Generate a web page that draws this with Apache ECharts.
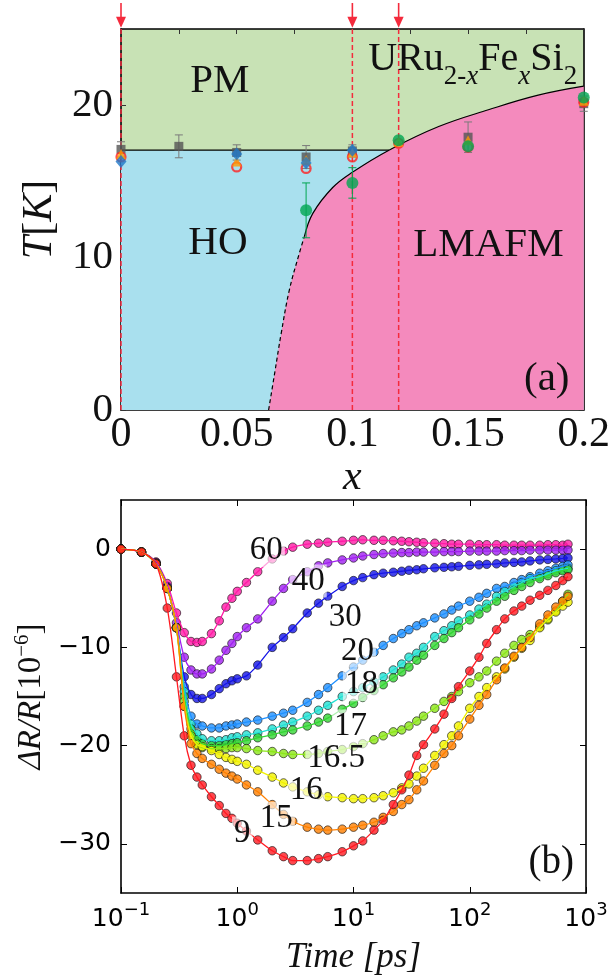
<!DOCTYPE html>
<html>
<head>
<meta charset="utf-8">
<script src="https://cdn.jsdelivr.net/npm/echarts@6/dist/echarts.min.js"></script>
<style>
html, body { margin: 0; padding: 0; background: #fff; }
#chart { width: 613px; height: 978px; }
</style>
</head>
<body>
<div id="chart"></div>
<script>
const SERIF = 'Liberation Serif';
const SANS = 'DejaVu Sans';

// ---------- (a) phase diagram ----------
const xLabelsA = [0, 0.05, 0.1, 0.15, 0.2];
const yLabelsA = [0, 10, 20];
const hoT = 17.05;
const hoEndX = 0.1158;
const boundaryDashed = [[0.0638, 0], [0.0664, 2.4], [0.0692, 5.0], [0.0728, 7.9], [0.0771, 10.3], [0.0793, 11.4]];
const boundarySolid = [[0.0793, 11.4], [0.0829, 12.9], [0.0915, 14.6], [0.1, 15.6], [0.1158, 17.05], [0.1373, 18.6], [0.1588, 19.7], [0.1803, 20.66], [0.2, 21.25]];
const markedX = [0, 0.1, 0.12];

const grayX = [0, 0.025, 0.05, 0.08, 0.1, 0.15, 0.2];
const grayT = [17.1, 17.3, 16.9, 16.6, 17.0, 17.9, 20.1];
const grayErr = [0.5, 0.75, 0.5, 0.75, 0.4, 1.0, 0.5];
const redX = [0, 0.05, 0.08, 0.1, 0.12, 0.15, 0.2];
const redT = [16.6, 15.95, 15.85, 16.6, 17.5, 17.25, 20.2];
const orangeX = [0, 0.05, 0.08, 0.1, 0.12, 0.15, 0.2];
const orangeT = [16.8, 16.3, 16.4, 16.9, 17.6, 17.7, 20.3];
const blueX = [0, 0.05, 0.08, 0.1];
const blueT = [16.3, 16.8, 16.2, 17.05];
const greenX = [0.08, 0.1, 0.12, 0.15, 0.2];
const greenT = [13.1, 14.9, 17.7, 17.3, 20.5];
const greenErr = [1.8, 1.0, 0, 0, 0];

const phaseNames = ['PM', 'HO', 'LMAFM', '(a)'];
const phaseX = [0.0427, 0.0419, 0.1588, 0.184];
const phaseT = [21.57, 10.95, 10.82, 2.03];
const formulaPos = [0.152, 23.0];

// ---------- (b) transient reflectivity ----------
const tempNames = ['60', '40', '30', '20', '18', '17', '16.5', '16', '15', '9'];
const tempColors = ['#ff1aa6', '#a020f0', '#1414e6', '#1e90ff', '#22e0d2', '#33d633', '#8ce619', '#f2f200', '#ff8000', '#ff1a22'];
const timePs = [0.1, 0.15, 0.2, 0.25, 0.3, 0.35, 0.4, 0.45, 0.5, 0.6, 0.7, 0.8, 0.9, 1.0, 1.2, 1.5, 2, 2.5, 3, 4, 5, 6, 8, 10, 12, 15, 18, 22, 26, 30, 35, 40, 50, 60, 70, 80, 100, 120, 140, 170, 200, 240, 280, 330, 400, 470, 550, 630, 700];
const dR60 = [0, -0.3, -1.3, -3.5, -6.5, -8.5, -9.4, -9.5, -9.4, -8.6, -7.3, -5.9, -5.0, -4.3, -3.4, -2.3, -1.0, -0.2, 0.2, 0.5, 0.6, 0.7, 0.8, 0.9, 0.95, 0.9, 0.9, 0.85, 0.8, 0.75, 0.7, 0.65, 0.6, 0.55, 0.5, 0.5, 0.5, 0.45, 0.45, 0.45, 0.4, 0.4, 0.4, 0.4, 0.4, 0.45, 0.45, 0.4, 0.5];
const dR40 = [0, -0.3, -1.4, -3.8, -7.5, -11.0, -12.3, -12.7, -12.7, -12.2, -11.3, -10.3, -9.6, -8.9, -8.0, -7.1, -5.3, -4.0, -3.1, -2.3, -1.7, -1.4, -1.1, -0.9, -0.7, -0.55, -0.45, -0.4, -0.35, -0.35, -0.3, -0.3, -0.3, -0.25, -0.25, -0.25, -0.2, -0.2, -0.2, -0.2, -0.15, -0.15, -0.15, -0.1, -0.1, -0.1, -0.1, -0.1, -0.1];
const dR30 = [0, -0.3, -1.4, -3.9, -8.0, -13.0, -14.8, -15.2, -15.2, -14.8, -14.2, -13.7, -13.4, -13.2, -12.9, -11.8, -10.0, -9.0, -8.1, -6.5, -5.5, -4.8, -3.8, -3.2, -2.9, -2.6, -2.45, -2.35, -2.25, -2.15, -2.1, -2.0, -1.9, -1.85, -1.8, -1.75, -1.65, -1.6, -1.55, -1.5, -1.4, -1.35, -1.3, -1.2, -1.1, -1.05, -1.0, -0.95, -0.9];
const dR20 = [0, -0.3, -1.5, -4.0, -8.0, -14.0, -17.0, -17.8, -18.0, -18.2, -18.2, -18.0, -17.9, -17.8, -17.6, -17.4, -17.0, -16.7, -16.4, -15.6, -14.8, -14.1, -12.9, -12.0, -11.3, -10.5, -9.8, -9.1, -8.6, -8.2, -7.8, -7.5, -7.0, -6.6, -6.2, -5.8, -5.3, -4.9, -4.5, -4.0, -3.8, -3.4, -3.1, -2.8, -2.45, -2.2, -1.95, -1.75, -1.6];
const dR18 = [0, -0.3, -1.5, -4.0, -8.0, -14.5, -17.8, -18.8, -19.3, -19.5, -19.5, -19.4, -19.2, -19.1, -18.9, -18.7, -18.3, -17.9, -17.6, -17.0, -16.4, -15.9, -15.0, -14.5, -14.1, -13.5, -13.0, -12.3, -11.7, -11.0, -10.6, -10.0, -8.9, -8.3, -7.8, -7.3, -6.7, -6.1, -5.6, -4.8, -4.3, -3.8, -3.4, -3.0, -2.8, -2.5, -2.2, -2.05, -1.95];
const dR17 = [0, -0.3, -1.5, -4.0, -8.0, -15.0, -18.3, -19.4, -19.8, -20.0, -20.0, -19.9, -19.8, -19.7, -19.5, -19.2, -18.9, -18.6, -18.4, -18.0, -17.6, -17.2, -16.3, -15.7, -15.1, -14.4, -13.8, -13.1, -12.5, -12.0, -11.3, -10.8, -9.8, -9.1, -8.5, -8.0, -7.2, -6.6, -6.0, -5.3, -4.8, -4.2, -3.8, -3.4, -3.0, -2.7, -2.4, -2.2, -2.1];
const dR165 = [0, -0.3, -1.5, -4.0, -8.0, -15.5, -18.8, -19.8, -20.2, -20.3, -20.3, -20.3, -20.2, -20.2, -20.3, -20.5, -20.6, -20.8, -20.9, -20.9, -20.8, -20.6, -20.4, -20.1, -19.8, -19.4, -19.0, -18.6, -18.4, -18.0, -17.5, -17.0, -16.2, -15.5, -15.0, -14.5, -13.6, -13.0, -12.4, -11.4, -10.6, -9.8, -9.2, -8.7, -7.9, -7.2, -6.3, -5.3, -4.6];
const dR16 = [0, -0.3, -1.5, -4.0, -8.0, -16.0, -19.0, -19.9, -20.1, -20.5, -20.9, -21.2, -21.4, -21.6, -21.9, -22.5, -23.2, -23.8, -24.2, -24.7, -25.0, -25.2, -25.3, -25.4, -25.4, -25.3, -25.1, -24.8, -24.3, -23.9, -23.1, -22.3, -21.0, -19.9, -19.0, -18.0, -16.2, -15.0, -14.1, -13.0, -12.2, -11.0, -10.1, -9.3, -8.0, -7.1, -6.4, -5.8, -5.4];
const dR15 = [0, -0.3, -1.5, -4.0, -8.0, -16.0, -19.8, -20.8, -21.3, -21.9, -22.4, -22.8, -23.1, -23.4, -24.0, -24.7, -26.0, -27.0, -27.7, -28.3, -28.5, -28.6, -28.5, -28.3, -28.1, -27.8, -27.3, -26.7, -26.0, -25.5, -24.5, -23.6, -22.0, -20.8, -20.0, -19.0, -17.3, -15.9, -14.8, -13.3, -12.1, -10.9, -10.0, -9.0, -7.6, -6.7, -5.9, -5.3, -4.8];
const dR9 = [0, -0.3, -1.5, -6.0, -13.0, -19.0, -22.0, -23.2, -24.0, -25.2, -26.1, -26.9, -27.4, -27.9, -28.7, -29.6, -30.7, -31.3, -31.7, -31.7, -31.5, -31.3, -30.8, -30.2, -29.7, -28.6, -27.6, -26.0, -24.5, -23.0, -21.0, -19.9, -18.3, -16.8, -15.2, -14.0, -12.4, -11.0, -9.6, -8.2, -7.1, -6.3, -5.8, -5.2, -4.7, -4.2, -3.7, -3.2, -2.8];
const allCurves = [dR60, dR40, dR30, dR20, dR18, dR17, dR165, dR16, dR15, dR9];
const labelT = [1.78, 4.08, 8.5, 10.8, 11.7, 9.4, 7.1, 3.93, 2.17, 1.105];
const labelV = [-0.17, -3.24, -6.9, -10.4, -13.8, -18.0, -21.3, -24.6, -27.4, -28.9];
const panelB = [503, -31.9];

const PM_GREEN = '#c8e2b5';
const HO_BLUE = '#a9e0ee';
const AFM_PINK = '#f48abd';
const MARK_RED = '#f42a3c';
const INK = '#111111';

function errorBar(params, api) {
  const x = api.value(0);
  const top = api.coord([x, api.value(2)]);
  const bot = api.coord([x, api.value(1)]);
  const c = api.visual('color');
  const w = 4;
  const st = { stroke: c, lineWidth: 1 };
  return {
    type: 'group',
    children: [
      { type: 'line', shape: { x1: top[0], y1: top[1], x2: bot[0], y2: bot[1] }, style: st },
      { type: 'line', shape: { x1: top[0] - w, y1: top[1], x2: top[0] + w, y2: top[1] }, style: st },
      { type: 'line', shape: { x1: bot[0] - w, y1: bot[1], x2: bot[0] + w, y2: bot[1] }, style: st }
    ]
  };
}

function pairs(xs, ys) { return xs.map((x, i) => [x, ys[i]]); }

const boxLine = { show: true, onZero: false, lineStyle: { color: '#000', width: 1.6 } };
const tickIn = { show: true, inside: true, length: 5, lineStyle: { color: '#333', width: 1 } };
const plainText = { textBorderWidth: 0, textBorderColor: 'transparent', textShadowBlur: 0, opacity: 1 };

const series = [];

// phase regions
series.push({
  type: 'line', xAxisIndex: 0, yAxisIndex: 0, symbol: 'none', silent: true,
  data: [[0, hoT], [0.2, hoT]], lineStyle: { width: 0 },
  areaStyle: { color: HO_BLUE, opacity: 1 }, z: 1
});
series.push({
  type: 'line', xAxisIndex: 0, yAxisIndex: 0, symbol: 'none', silent: true, smooth: 0.4,
  data: boundaryDashed.concat(boundarySolid.slice(1)), lineStyle: { width: 0 },
  areaStyle: { color: AFM_PINK, opacity: 1 }, z: 1
});
series.push({
  type: 'line', xAxisIndex: 0, yAxisIndex: 0, symbol: 'none', silent: true,
  data: [[0, hoT], [hoEndX, hoT]], lineStyle: { color: '#000', width: 1.2 }, z: 2
});
series.push({
  type: 'line', xAxisIndex: 0, yAxisIndex: 0, symbol: 'none', silent: true, smooth: 0.4,
  data: boundaryDashed, lineStyle: { color: '#000', width: 1.2, type: [4, 3] }, z: 2
});
series.push({
  type: 'line', xAxisIndex: 0, yAxisIndex: 0, symbol: 'none', silent: true, smooth: 0.4,
  data: boundarySolid, lineStyle: { color: '#000', width: 1.2 }, z: 2
});

// marked compositions: dashed red lines + arrows above the frame
markedX.forEach(x => {
  series.push({
    type: 'line', xAxisIndex: 0, yAxisIndex: 0, symbol: 'none', silent: true,
    data: [[x, 0], [x, 25]], lineStyle: { color: MARK_RED, width: 1.5, type: [5, 3] }, z: 3
  });
  series.push({
    type: 'line', xAxisIndex: 0, yAxisIndex: 0, silent: true, clip: false, showSymbol: true,
    data: [{ value: [x, 26.7], symbol: 'none' }, { value: [x, 25.44], symbol: 'triangle', symbolRotate: 180, symbolSize: [10, 11] }],
    lineStyle: { color: MARK_RED, width: 1.6 }, itemStyle: { color: MARK_RED }, z: 3
  });
});

// measured transition points
series.push({
  type: 'custom', xAxisIndex: 0, yAxisIndex: 0, silent: true, renderItem: errorBar,
  itemStyle: { color: '#7a7a7a' }, encode: { x: 0, y: [1, 2] },
  data: grayX.map((x, i) => [x, grayT[i] - grayErr[i], grayT[i] + grayErr[i]]), z: 4
});
series.push({
  type: 'scatter', xAxisIndex: 0, yAxisIndex: 0, silent: true, symbol: 'rect', symbolSize: 9,
  itemStyle: { color: '#555' }, data: pairs(grayX, grayT), z: 4
});
series.push({
  type: 'scatter', xAxisIndex: 0, yAxisIndex: 0, silent: true, symbol: 'circle', symbolSize: 9,
  itemStyle: { color: 'rgba(0,0,0,0)', borderColor: '#ff2020', borderWidth: 2.2 }, data: pairs(redX, redT), z: 4
});
series.push({
  type: 'scatter', xAxisIndex: 0, yAxisIndex: 0, silent: true, symbol: 'triangle', symbolSize: 10,
  itemStyle: { color: '#ff9a00' }, data: pairs(orangeX, orangeT), z: 4
});
series.push({
  type: 'scatter', xAxisIndex: 0, yAxisIndex: 0, silent: true, symbol: 'diamond', symbolSize: [11, 13],
  itemStyle: { color: '#1f78c8' }, data: pairs(blueX, blueT), z: 4
});
series.push({
  type: 'custom', xAxisIndex: 0, yAxisIndex: 0, silent: true, renderItem: errorBar,
  itemStyle: { color: '#00a651' }, encode: { x: 0, y: [1, 2] },
  data: greenX.map((x, i) => [x, greenT[i] - greenErr[i], greenT[i] + greenErr[i]]).filter((d, i) => greenErr[i] > 0), z: 4
});
series.push({
  type: 'scatter', xAxisIndex: 0, yAxisIndex: 0, silent: true, symbol: 'circle', symbolSize: 12,
  itemStyle: { color: '#00a651' }, data: pairs(greenX, greenT), z: 4
});

// phase names
series.push({
  type: 'scatter', xAxisIndex: 0, yAxisIndex: 0, silent: true, symbolSize: 1,
  itemStyle: { color: 'rgba(0,0,0,0)' },
  data: phaseNames.map((n, i) => ({ value: [phaseX[i], phaseT[i]], name: n })),
  label: Object.assign({
    show: true, position: 'inside', formatter: p => p.name,
    fontFamily: SERIF, fontSize: 41, color: INK
  }, plainText), z: 5
});
series.push({
  type: 'scatter', xAxisIndex: 0, yAxisIndex: 0, silent: true, symbolSize: 1,
  itemStyle: { color: 'rgba(0,0,0,0)' }, data: [formulaPos],
  label: Object.assign({
    show: true, position: 'inside',
    formatter: '{m|URu}{s|2-}{si|x}{m|Fe}{si|x}{m|Si}{s|2}',
    rich: {
      m: { fontFamily: SERIF, fontSize: 40, color: INK },
      s: { fontFamily: SERIF, fontSize: 27, color: INK, padding: [35, 0, 0, 0] },
      si: { fontFamily: SERIF, fontSize: 27, fontStyle: 'italic', color: INK, padding: [35, 0, 0, 0] }
    }
  }, plainText), z: 5
});

// (b) curves: dots then fitted lines
allCurves.forEach((vals, k) => {
  series.push({
    type: 'scatter', xAxisIndex: 2, yAxisIndex: 2, silent: true, symbol: 'circle', symbolSize: 8.5,
    itemStyle: { color: tempColors[k], borderColor: '#111', borderWidth: 0.8 },
    data: pairs(timePs, vals), z: 2
  });
});
allCurves.forEach((vals, k) => {
  series.push({
    type: 'line', xAxisIndex: 2, yAxisIndex: 2, silent: true, symbol: 'none', smooth: 0.3,
    lineStyle: { color: tempColors[k], width: 1.3 }, data: pairs(timePs, vals), z: 3
  });
});
series.push({
  type: 'scatter', xAxisIndex: 2, yAxisIndex: 2, silent: true, symbolSize: 1,
  itemStyle: { color: 'rgba(0,0,0,0)' },
  data: tempNames.map((n, i) => ({ value: [labelT[i], labelV[i]], name: n })),
  label: Object.assign({
    show: true, position: 'inside', formatter: p => p.name,
    fontFamily: SERIF, fontSize: 33, color: INK,
    backgroundColor: 'rgba(255,255,255,0.62)', padding: [0, 2]
  }, plainText), z: 6
});
series.push({
  type: 'scatter', xAxisIndex: 2, yAxisIndex: 2, silent: true, symbolSize: 1,
  itemStyle: { color: 'rgba(0,0,0,0)' }, data: [{ value: panelB, name: '(b)' }],
  label: Object.assign({ show: true, position: 'inside', formatter: p => p.name, fontFamily: SERIF, fontSize: 39, color: INK }, plainText),
  z: 6
});

const option = {
  animation: false,
  backgroundColor: '#fff',
  textStyle: { fontFamily: SERIF },
  grid: [
    { left: 121, top: 29, width: 465, height: 381, show: true, backgroundColor: PM_GREEN, borderWidth: 0 },
    { left: 121, top: 500, width: 465, height: 393 }
  ],
  xAxis: [
    {
      gridIndex: 0, type: 'value', min: 0, max: 0.2, interval: 0.025,
      axisLine: boxLine, axisTick: tickIn, splitLine: { show: false },
      axisLabel: {
        fontFamily: SERIF, fontSize: 42, color: INK, margin: 4,
        formatter: v => { const t = xLabelsA.find(a => Math.abs(a - v) < 1e-9); return t === undefined ? '' : String(t); }
      },
      name: 'x', nameLocation: 'middle', nameGap: 33,
      nameTextStyle: { fontFamily: SERIF, fontSize: 42, fontStyle: 'italic', color: INK }
    },
    {
      gridIndex: 0, type: 'value', position: 'top', min: 0, max: 0.2, interval: 0.025,
      axisLine: boxLine, axisTick: tickIn, axisLabel: { show: false }, splitLine: { show: false }
    },
    {
      gridIndex: 1, type: 'log', logBase: 10, min: 0.1, max: 1000,
      axisLine: boxLine, axisTick: { show: true, inside: true, length: 6, lineStyle: { color: '#000' } },
      minorTick: { show: false }, splitLine: { show: false },
      axisLabel: {
        margin: 8,
        formatter: v => '{b|10}{e|' + String(Math.round(Math.log10(v))).replace('-', '\u2212') + '}',
        rich: {
          b: { fontFamily: SANS, fontSize: 25, color: '#000' },
          e: { fontFamily: SANS, fontSize: 18, color: '#000', padding: [0, 0, 19, 0] }
        }
      },
      name: 'Time [ps]', nameLocation: 'middle', nameGap: 47,
      nameTextStyle: { fontFamily: SERIF, fontSize: 35, fontStyle: 'italic', color: INK }
    },
    {
      gridIndex: 1, type: 'log', logBase: 10, min: 0.1, max: 1000, position: 'top',
      axisLine: boxLine, axisTick: { show: true, inside: true, length: 6, lineStyle: { color: '#000' } },
      minorTick: { show: false }, axisLabel: { show: false }, splitLine: { show: false }
    }
  ],
  yAxis: [
    {
      gridIndex: 0, type: 'value', min: 0, max: 25, interval: 5,
      axisLine: boxLine, axisTick: tickIn, splitLine: { show: false },
      axisLabel: {
        fontFamily: SERIF, fontSize: 41, color: INK, margin: 8,
        formatter: v => (yLabelsA.indexOf(v) >= 0 ? String(v) : '')
      },
      name: '{i|T}{r|[}{i|K}{r|]}', nameLocation: 'middle', nameGap: 60,
      nameTextStyle: {
        rich: {
          i: { fontFamily: SERIF, fontSize: 42, fontStyle: 'italic', color: INK },
          r: { fontFamily: SERIF, fontSize: 42, color: INK }
        }
      }
    },
    {
      gridIndex: 0, type: 'value', position: 'right', min: 0, max: 25, interval: 5,
      axisLine: boxLine, axisTick: tickIn, axisLabel: { show: false }, splitLine: { show: false }
    },
    {
      gridIndex: 1, type: 'value', min: -35, max: 5,
      axisLine: boxLine,
      axisTick: { show: true, inside: true, length: 6, lineStyle: { color: '#000' }, customValues: [-30, -20, -10, 0] },
      splitLine: { show: false },
      axisLabel: {
        fontFamily: SANS, fontSize: 25, color: '#000', margin: 10, customValues: [-30, -20, -10, 0],
        formatter: v => (v < 0 ? '\u2212' + (-v) : String(v))
      },
      name: '{i|\u0394R/R}{r|[10}{s|\u22126}{r|]}', nameLocation: 'middle', nameGap: 66,
      nameTextStyle: {
        rich: {
          i: { fontFamily: SERIF, fontSize: 33, fontStyle: 'italic', color: INK },
          r: { fontFamily: SERIF, fontSize: 33, color: INK },
          s: { fontFamily: SERIF, fontSize: 21, color: INK, padding: [0, 0, 16, 0] }
        }
      }
    },
    {
      gridIndex: 1, type: 'value', position: 'right', min: -35, max: 5,
      axisLine: boxLine,
      axisTick: { show: true, inside: true, length: 6, lineStyle: { color: '#000' }, customValues: [-30, -20, -10, 0] },
      axisLabel: { show: false }, splitLine: { show: false }
    }
  ],
  series: series
};

const chart = echarts.init(document.getElementById('chart'), null, { renderer: 'canvas' });
chart.setOption(option);
</script>
</body>
</html>
